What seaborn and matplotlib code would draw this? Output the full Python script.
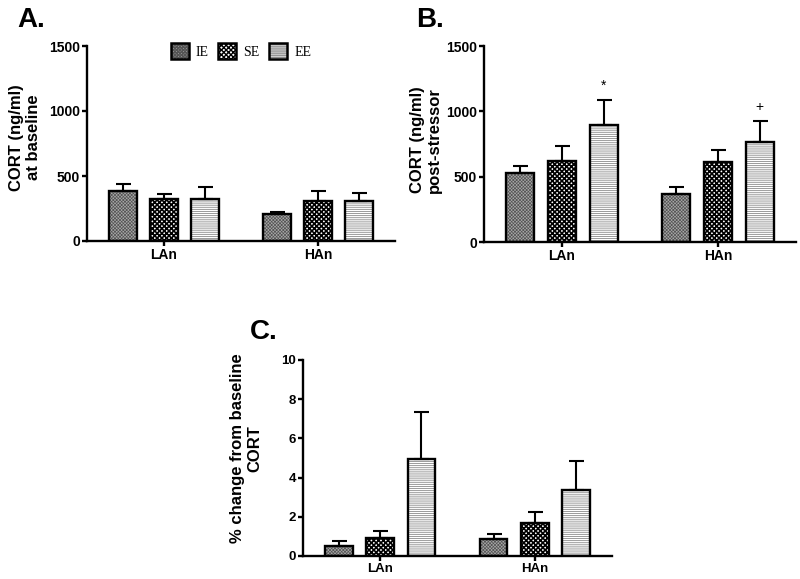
import numpy as np
import pandas as pd
import matplotlib
matplotlib.use("Agg")
import matplotlib.pyplot as plt
import seaborn as sns
from matplotlib.patches import Patch
from matplotlib.transforms import blended_transform_factory

# ---------------- data ----------------
groups = ["LAn", "HAn"]
conditions = ["IE", "SE", "EE"]

# Panel A: CORT at baseline (ng/ml), mean and SEM, order IE, SE, EE
base_LAn_mean = [387, 320, 323]
base_LAn_sem = [49, 41, 95]
base_HAn_mean = [208, 310, 305]
base_HAn_sem = [15, 77, 68]

# Panel B: CORT post-stressor (ng/ml)
post_LAn_mean = [527, 621, 899]
post_LAn_sem = [56, 117, 191]
post_HAn_mean = [367, 611, 769]
post_HAn_sem = [51, 94, 155]

# Panel C: % change from baseline CORT
pct_LAn_mean = [0.51, 0.94, 4.93]
pct_LAn_sem = [0.26, 0.34, 2.43]
pct_HAn_mean = [0.85, 1.70, 3.37]
pct_HAn_sem = [0.25, 0.53, 1.49]

cort_ticks = [0, 500, 1000, 1500]
pct_ticks = [0, 2, 4, 6, 8, 10]

# ---------------- style ----------------
sns.set_theme(style="ticks")
plt.rcParams["font.family"] = ["Liberation Sans", "DejaVu Sans"]
plt.rcParams["font.weight"] = "bold"
for k in ["text.color", "axes.labelcolor", "xtick.color", "ytick.color", "axes.edgecolor"]:
    plt.rcParams[k] = "black"

face_colors = {"IE": "#a8a8a8", "SE": "#ffffff", "EE": "#ffffff"}
hatch_colors = {"IE": "#555555", "SE": "#000000", "EE": "#8a8a8a"}
hatches = {"IE": "xxxxxxxxxx", "SE": "xxxxxxx", "EE": "--------"}
hatch_lw = {"IE": 0.5, "SE": 1.2, "EE": 0.6}
EDGE_LW = 1.7

fig = plt.figure(figsize=(8.0, 5.79), dpi=100)
W, H = 800.0, 579.0


def axes_px(left, right, top, bottom):
    return fig.add_axes([left / W, 1 - bottom / H, (right - left) / W, (bottom - top) / H])


def make_df(lan_mean, han_mean):
    rows = []
    for g, vals in zip(groups, [lan_mean, han_mean]):
        for c, v in zip(conditions, vals):
            rows.append({"group": g, "condition": c, "value": v})
    return pd.DataFrame(rows)


def draw_panel(ax, lan_mean, lan_sem, han_mean, han_sem, ylim, yticks,
               ylabel, label_x_px, label_y_ax, tick_size):
    df = make_df(lan_mean, han_mean)
    sems = list(lan_sem) + list(han_sem)
    means = list(lan_mean) + list(han_mean)

    n0 = len(ax.patches)
    sns.barplot(data=df, x="group", y="value", hue="condition", order=groups,
                hue_order=conditions, palette=[face_colors[c] for c in conditions],
                errorbar=None, gap=0.33, width=0.8, legend=False, ax=ax,
                saturation=1)
    face = sorted(ax.patches[n0:], key=lambda p: p.get_x())
    for k, p in enumerate(face):
        c = conditions[k % 3]
        p.set_facecolor(face_colors[c])
        p.set_hatch(hatches[c])
        p.set_edgecolor(hatch_colors[c])
        p.set_linewidth(0)
        try:
            p.set_hatch_linewidth(hatch_lw[c])
        except Exception:
            pass
        p.set_zorder(2)

    n1 = len(ax.patches)
    sns.barplot(data=df, x="group", y="value", hue="condition", order=groups,
                hue_order=conditions, palette=["black"] * 3, fill=False,
                errorbar=None, gap=0.33, width=0.8, legend=False, ax=ax)
    border = sorted(ax.patches[n1:], key=lambda p: p.get_x())
    for p in border:
        p.set_facecolor("none")
        p.set_edgecolor("black")
        p.set_linewidth(EDGE_LW)
        p.set_zorder(3)

    xs = [p.get_x() + p.get_width() / 2 for p in border]
    ax.errorbar(xs, means, yerr=[np.zeros(len(sems)), sems], fmt="none",
                ecolor="black", elinewidth=1.5, capsize=5.4, capthick=1.5,
                zorder=4)

    ax.set_ylim(*ylim)
    ax.set_yticks(yticks)
    ax.set_xlim(-0.5, 1.5)
    ax.set_xlabel("")
    sns.despine(ax=ax)
    for s in ["left", "bottom"]:
        ax.spines[s].set_linewidth(EDGE_LW)
        ax.spines[s].set_color("black")
    ax.tick_params(axis="both", direction="out", length=3.5, width=EDGE_LW,
                   labelsize=tick_size, pad=1.5, color="black", labelcolor="black")
    for lab in ax.get_xticklabels() + ax.get_yticklabels():
        lab.set_fontweight("bold")
    ax.set_ylabel(ylabel, fontsize=12, fontweight="bold", va="center",
                  ha="center", linespacing=1.15, color="black")
    tr = blended_transform_factory(fig.transFigure, ax.transAxes)
    ax.yaxis.set_label_coords(label_x_px / W, label_y_ax, transform=tr)
    return border


# Panel A
axA = axes_px(87, 395, 46, 241)
draw_panel(axA, base_LAn_mean, base_LAn_sem, base_HAn_mean, base_HAn_sem,
           (0, 1500), cort_ticks, "CORT (ng/ml)\nat baseline", 25, 0.53, 10)

# Panel B
axB = axes_px(484, 796, 46, 242)
barsB = draw_panel(axB, post_LAn_mean, post_LAn_sem, post_HAn_mean, post_HAn_sem,
                   (0, 1500), cort_ticks, "CORT (ng/ml)\npost-stressor", 426, 0.52, 10)

# significance marks in B
allB_mean = post_LAn_mean + post_HAn_mean
allB_sem = post_LAn_sem + post_HAn_sem
for idx, mark, off in [(2, "*", 5), (5, "+", 5)]:
    p = barsB[idx]
    axB.annotate(mark, xy=(p.get_x() + p.get_width() / 2, allB_mean[idx] + allB_sem[idx]),
                 xytext=(0, off), textcoords="offset points", ha="center",
                 va="bottom", fontsize=10, fontweight="normal", color="black")

# Panel C
axC = axes_px(303, 612, 360, 556)
draw_panel(axC, pct_LAn_mean, pct_LAn_sem, pct_HAn_mean, pct_HAn_sem,
           (0, 10), pct_ticks, "% change from baseline\nCORT", 246, 0.55, 9.5)

# Legend in panel A
handles = []
for c in conditions:
    layer = Patch(facecolor=face_colors[c], edgecolor=hatch_colors[c],
                  hatch=hatches[c], linewidth=0)
    edge = Patch(facecolor="none", edgecolor="black", linewidth=1.8)
    handles.append((layer, edge))
fig.legend(handles, conditions, loc="center", bbox_to_anchor=(241 / W, 1 - 51 / H),
           ncol=3, frameon=False, handlelength=1.3, handleheight=1.3,
           handletextpad=0.5, columnspacing=0.7,
           prop={"family": ["Liberation Serif", "DejaVu Serif"], "size": 10,
                 "weight": "normal"})

# Panel letters
for txt, x, y in [("A.", 17, 27), ("B.", 416, 27), ("C.", 250, 339)]:
    fig.text(x / W, 1 - y / H, txt, fontsize=20, fontweight="bold",
             ha="left", va="baseline", color="black")

fig.savefig("out.png", dpi=100)
